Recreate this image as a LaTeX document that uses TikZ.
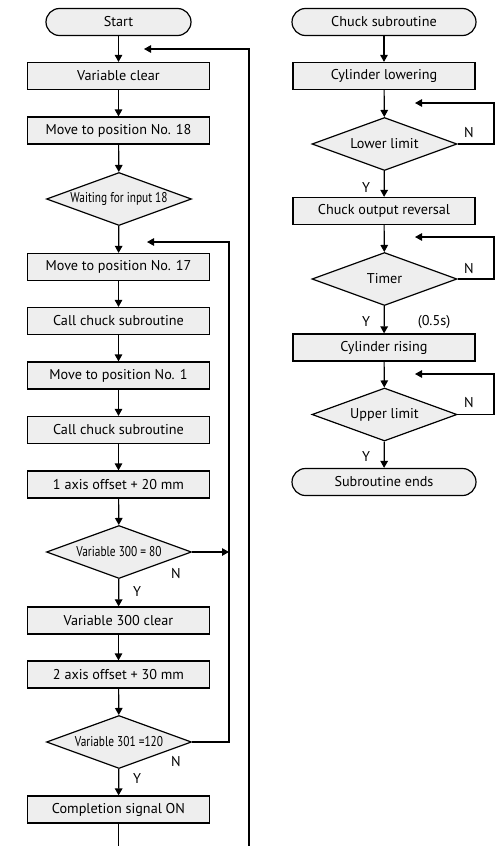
\documentclass[tikz,border=0pt]{standalone}
\usepackage{fontspec}
\setmainfont{PT Sans}
\usetikzlibrary{arrows.meta}
\usetikzlibrary{shapes.geometric}

\definecolor{boxgray}{HTML}{EEEEEE}
\newcommand{\condtext}[1]{\scalebox{0.8}[1]{#1}}

\begin{document}
\begin{tikzpicture}[x=1pt,y=-1pt]
\tikzset{box/.style = {rectangle,draw=black,fill=boxgray,line width=1.2pt,minimum width=182pt,minimum height=27pt,inner sep=0pt,font=\fontsize{14.2}{16}\selectfont}}
\tikzset{term/.style = {box,rounded corners=13.5pt}}
\tikzset{test/.style = {diamond,draw=black,fill=boxgray,line width=1.2pt,minimum width=145pt,minimum height=53pt,inner sep=0pt,aspect=2.7,font=\fontsize{14.2}{16}\selectfont}}
\tikzset{yn/.style = {inner sep=0pt,font=\fontsize{14.2}{16}\selectfont}}
\tikzset{flow/.style = {line width=1.2pt,-{Triangle[length=7pt,width=7.5pt]}}}
\useasboundingbox (0,0) rectangle (496,846);
% main program
\node[term,minimum width=145pt] (start) at (118.5,22) {Start};
\node[box] (vclear) at (118.5,76) {Variable clear};
\node[box] (mv18) at (118.5,130.5) {Move to position No. 18};
\node[test] (wait) at (119,199) {\condtext{Waiting for input 18}};
\node[box] (mv17) at (118.5,267) {Move to position No. 17};
\node[box] (call1) at (118.5,321) {Call chuck subroutine};
\node[box] (mv1) at (118.5,375.5) {Move to position No. 1};
\node[box] (call2) at (118.5,430) {Call chuck subroutine};
\node[box] (off1) at (118.5,484.5) {1 axis offset + 20 mm};
\node[test] (v300) at (119,552) {\condtext{Variable 300 = 80}};
\node[box] (v300c) at (118.5,620.5) {Variable 300 clear};
\node[box] (off2) at (118.5,674.5) {2 axis offset + 30 mm};
\node[test] (v301) at (119,742) {\condtext{Variable 301 =120}};
\node[box] (done) at (118.5,809.5) {Completion signal ON};
\node[yn] (n1) at (176,574) {N};
\node[yn] (y1) at (137,592) {Y};
\node[yn] (n2) at (176,762) {N};
\node[yn] (y2) at (137,779) {Y};
% chuck subroutine
\node[term,minimum width=184pt] (chuck) at (384,22) {Chuck subroutine};
\node[box] (cyllow) at (384,76) {Cylinder lowering};
\node[test] (lower) at (384.5,144) {Lower limit};
\node[box] (rev) at (384,211) {Chuck output reversal};
\node[test] (timer) at (384.5,279) {Timer};
\node[box] (rise) at (384,347.5) {Cylinder rising};
\node[test] (upper) at (384.5,414.5) {Upper limit};
\node[term,minimum width=184pt] (ends) at (384,482) {Subroutine ends};
\node[yn] (n3) at (469,133) {N};
\node[yn] (y3) at (366,188) {Y};
\node[yn] (n4) at (469,269) {N};
\node[yn] (y4) at (366,322) {Y};
\node[yn] (t05) at (434,322) {(0.5s)};
\node[yn] (n5) at (469,403) {N};
\node[yn] (y5) at (366,457) {Y};
% loop corners
\coordinate (lout) at (249,49);
\coordinate (louttip) at (144,49);
\coordinate (loutend) at (249,846);
\coordinate (doneend) at (118.5,846);
\coordinate (lin) at (229,242);
\coordinate (lintip) at (147,242);
\coordinate (r1) at (494,103);
\coordinate (r1tip) at (415,103);
\coordinate (r2) at (494,237);
\coordinate (r2tip) at (415,237);
\coordinate (r3) at (494,374);
\coordinate (r3tip) at (415,374);
%edges
\draw[flow] (start) -- (vclear);
\draw[flow] (vclear) -- (mv18);
\draw[flow] (mv18) -- (wait);
\draw[flow] (wait) -- (mv17);
\draw[flow] (mv17) -- (call1);
\draw[flow] (call1) -- (mv1);
\draw[flow] (mv1) -- (call2);
\draw[flow] (call2) -- (off1);
\draw[flow] (off1) -- (v300);
\draw[flow] (v300) -- (v300c);
\draw[flow] (v300c) -- (off2);
\draw[flow] (off2) -- (v301);
\draw[flow] (v301) -- (done);
\draw[line width=1.2pt] (done) -- (doneend);
\draw[flow] (loutend) -- (lout) -- (louttip);
\draw[flow] (v301.east) -| (lin) -- (lintip);
\draw[flow] (v300.east) -- (v300.east -| lin);
\draw[flow] (chuck) -- (cyllow);
\draw[flow] (cyllow) -- (lower);
\draw[flow] (lower) -- (rev);
\draw[flow] (rev) -- (timer);
\draw[flow] (timer) -- (rise);
\draw[flow] (rise) -- (upper);
\draw[flow] (upper) -- (ends);
\draw[flow] (lower.east) -| (r1) -- (r1tip);
\draw[flow] (timer.east) -| (r2) -- (r2tip);
\draw[flow] (upper.east) -| (r3) -- (r3tip);
\end{tikzpicture}
\end{document}
